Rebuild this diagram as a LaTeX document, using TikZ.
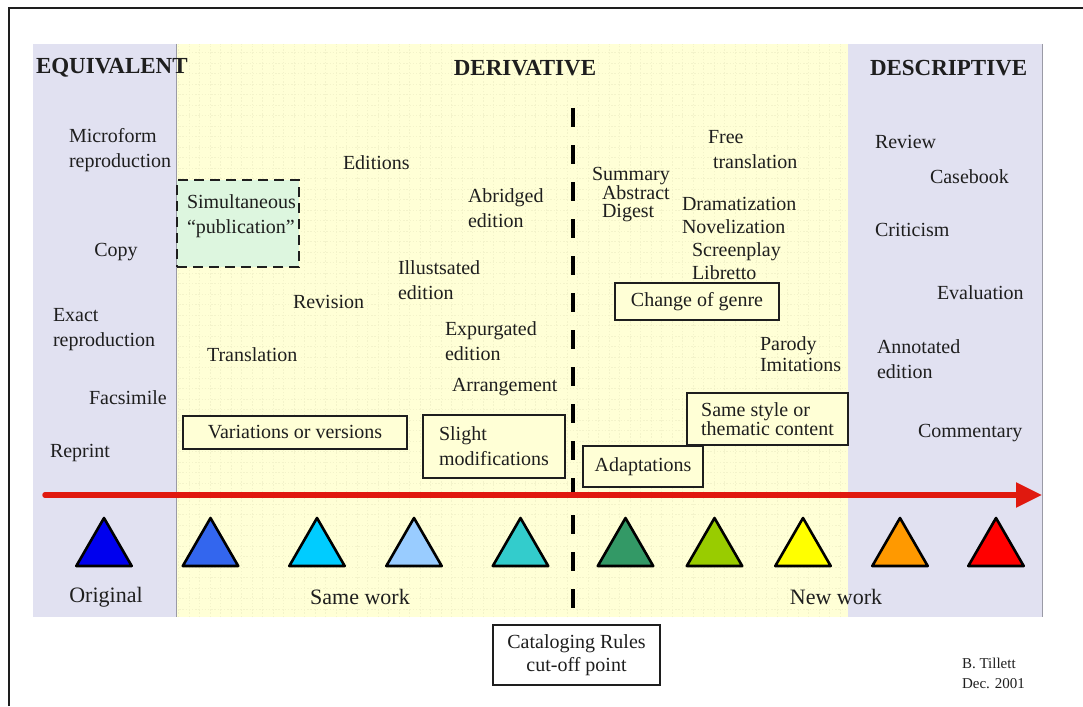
\documentclass[tikz,border=0pt]{standalone}
\usepackage{fontspec}
\setmainfont{Liberation Serif}
\usetikzlibrary{arrows.meta,shapes.geometric}

\definecolor{panelyellow}{HTML}{FFFFD6}
\definecolor{panellav}{HTML}{E1E1F1}
\definecolor{simgreen}{HTML}{DDF6DF}
\definecolor{gridtint}{HTML}{F3F3CA}
\definecolor{axisred}{HTML}{E0190F}
\definecolor{ink}{HTML}{1E1E1E}
\definecolor{edge}{HTML}{9A9AA6}
\definecolor{tA}{HTML}{0000EE}
\definecolor{tB}{HTML}{3366EE}
\definecolor{tC}{HTML}{00CCFF}
\definecolor{tD}{HTML}{99CCFF}
\definecolor{tE}{HTML}{33CCCC}
\definecolor{tF}{HTML}{339966}
\definecolor{tG}{HTML}{99CC00}
\definecolor{tH}{HTML}{FFFF00}
\definecolor{tI}{HTML}{FF9900}
\definecolor{tJ}{HTML}{FF0000}

\begin{document}
\begin{tikzpicture}[x=1pt,y=-1pt,
  every node/.style={inner sep=0pt, outer sep=0pt, text=ink,
    font=\fontsize{20}{25}\selectfont},
  lbl/.style={anchor=west, align=left},
  header/.style={font=\fontsize{23}{26}\selectfont\bfseries},
  big/.style={font=\fontsize{22}{26}\selectfont},
  tight/.style={font=\fontsize{20}{18.5}\selectfont},
  framebox/.style={draw=ink, line width=2.6pt, fill=panelyellow, align=left},
  dashbox/.style={draw=ink, line width=2.6pt, fill=simgreen,
    dash pattern=on 10pt off 6pt},
  rulebox/.style={draw=ink, line width=2.2pt, fill=white, align=center},
  work/.style={regular polygon, regular polygon sides=3, minimum size=64pt,
    draw=black, line width=2.6pt, line join=round},
  cutline/.style={draw=black, line width=4pt, dash pattern=on 19pt off 18pt},
  axis/.style={draw=axisred, line width=5.5pt, line cap=round,
    -{Triangle[length=26pt,width=24pt]}},
  gridlines/.style={draw=gridtint, line width=0.7pt, dash pattern=on 1.4pt off 1.8pt}
]
\useasboundingbox (0,0) rectangle (1083,706);
\fill[white] (0,0) rectangle (1083,706);

% outer frame
\draw[ink, line width=2pt] (9,706) -- (9,8) -- (1083,8);

% three bands
\fill[panellav] (33,44) rectangle (176,617);
\fill[panelyellow] (176,44) rectangle (848,617);
\fill[panellav] (848,44) rectangle (1042,617);
\draw[gridlines, step=10.5pt] (176,44) grid (848,617);
\draw[edge, line width=1pt] (176,44) -- (176,617);
\draw[edge, line width=1pt] (1042,44) -- (1042,617);

% band headings
\node[header, anchor=west] (equiv) at (36,68) {EQUIVALENT};
\node[header] (deriv) at (525,68) {DERIVATIVE};
\node[header, anchor=west] (descr) at (870,68) {DESCRIPTIVE};

% equivalent band
\node[lbl] (micro) at (69,150) {Microform\\reproduction};
\node (copy) at (116,252) {Copy};
\node[lbl] (exact) at (53,330) {Exact\\reproduction};
\node[lbl] (facs) at (89,398) {Facsimile};
\node[lbl] (reprint) at (50,453) {Reprint};

% derivative band, left of the cut-off
\node[dashbox, minimum width=122pt, minimum height=87pt] (simul) at (238,223.5) {};
\node[lbl] (simtxt) at (187,216) {Simultaneous\\``publication''};
\node[lbl] (editions) at (343,163) {Editions};
\node[lbl] (abridged) at (468,208) {Abridged\\edition};
\node[lbl] (illus) at (398,280) {Illustsated\\edition};
\node[lbl] (revision) at (293,302) {Revision};
\node[lbl] (expurg) at (445,341) {Expurgated\\edition};
\node[lbl] (transl) at (207,355) {Translation};
\node[lbl] (arrange) at (452,387) {Arrangement};
\node[framebox, minimum width=224pt, minimum height=33pt, align=center]
  (variants) at (295,432.5) {Variations or versions};
\node[framebox, minimum width=142pt, minimum height=63pt]
  (slight) at (494,446.5) {Slight\\modifications};

% derivative band, right of the cut-off
\node[lbl, tight] (summary) at (592,195)
  {Summary\\\hspace*{10pt}Abstract\\\hspace*{10pt}Digest};
\node[lbl] (free) at (708,150) {Free\\\hspace*{5pt}translation};
\node[lbl, font=\fontsize{20}{23}\selectfont] (genres) at (682,238)
  {Dramatization\\Novelization\\\hspace*{10pt}Screenplay\\\hspace*{10pt}Libretto};
\node[framebox, minimum width=164pt, minimum height=37pt, align=center]
  (genre) at (697,301.5) {Change of genre};
\node[lbl, font=\fontsize{20}{21}\selectfont] (parody) at (760,354) {Parody\\Imitations};
\node[framebox, minimum width=161pt, minimum height=52pt,
  font=\fontsize{20}{19}\selectfont] (style) at (767.5,419) {Same style or\\thematic content};
\node[framebox, minimum width=120pt, minimum height=41pt, align=center]
  (adapt) at (643,466.5) {Adaptations};

% descriptive band
\node[lbl] (review) at (875,142) {Review};
\node[lbl] (casebook) at (930,177) {Casebook};
\node[lbl] (critic) at (875,230) {Criticism};
\node[lbl] (evalu) at (937,293) {Evaluation};
\node[lbl] (annot) at (877,359) {Annotated\\edition};
\node[lbl] (comment) at (918,433) {Commentary};

% cataloging cut-off
\node[rulebox, minimum width=167pt, minimum height=60pt,
  font=\fontsize{20}{23}\selectfont] (cutoff) at (576.5,655)
  {Cataloging Rules\\cut-off point};
\coordinate (cuttop) at (573,108);
\draw[cutline] (cuttop) -- (cuttop |- cutoff.north);

% axis from original to new work
\coordinate (axstart) at (45,495);
\coordinate (axend) at (1042,495);
\draw[axis] (axstart) -- (axend);

% works along the axis
\node[work, fill=tA] (w1) at (104,550) {};
\node[work, fill=tB] (w2) at (210.5,550) {};
\node[work, fill=tC] (w3) at (317,550) {};
\node[work, fill=tD] (w4) at (414,550) {};
\node[work, fill=tE] (w5) at (520.5,550) {};
\node[work, fill=tF] (w6) at (625.5,550) {};
\node[work, fill=tG] (w7) at (714.5,550) {};
\node[work, fill=tH] (w8) at (803,550) {};
\node[work, fill=tI] (w9) at (900,550) {};
\node[work, fill=tJ] (w10) at (996,550) {};

\node[big] (original) at (106,597) {Original};
\node[big] (same) at (360,597) {Same work};
\node[big] (new) at (836,597) {New work};

% credit
\node[lbl, font=\fontsize{15}{20}\selectfont] (credit) at (962,673) {B. Tillett\\Dec. 2001};
\end{tikzpicture}
\end{document}
